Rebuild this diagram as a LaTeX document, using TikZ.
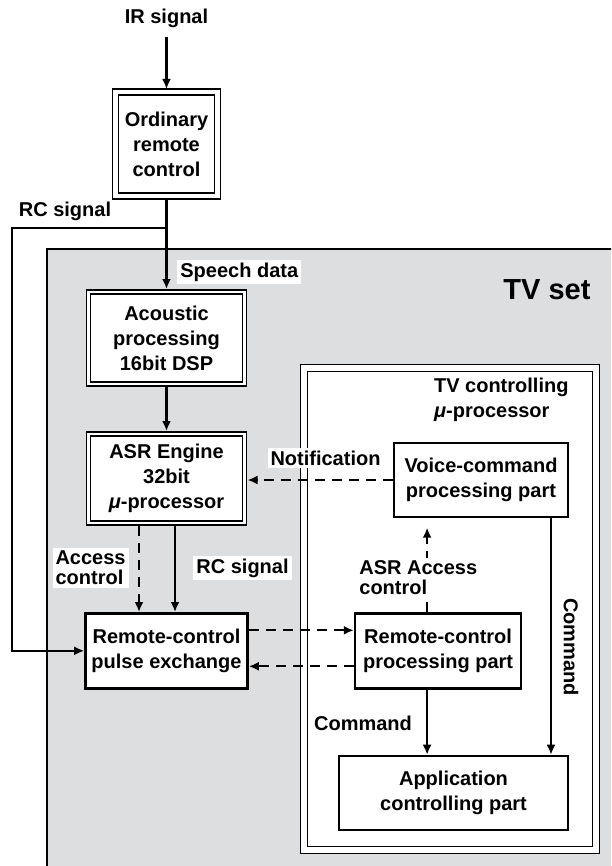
\documentclass[tikz,border=0pt]{standalone}
\usepackage{fontspec}
\setmainfont{Liberation Sans}
\usepackage{tikz}
\usetikzlibrary{arrows.meta, positioning, calc}
\definecolor{tvgray}{RGB}{221,222,224}

\begin{document}
\begin{tikzpicture}[
    x=0.5pt, y=-0.5pt,
    font={\bfseries\fontsize{10}{12.5}\selectfont},
    % Stil für die doppelt umrandeten Hardware-Boxen
    dblbox/.style={
      rectangle,
      draw=black,
      fill=white,
      double=white,
      line width=0.8pt,
      double distance=1.35pt,
      outer sep=1.5pt,
      inner sep=0pt,
      align=center
    },
    % Stil für die einfachen Boxen (Software-Teile)
    mainbox/.style={
      rectangle,
      draw=black,
      fill=white,
      line width=1.3pt,
      minimum height=37.5pt,
      inner sep=0pt,
      align=center
    },
    % Stil für die Beschriftungen an den Pfeilen
    labelbox/.style={
      fill=white,
      inner sep=1.5pt,
      align=left,
      font={\bfseries\fontsize{10}{10}\selectfont}
    },
    % Pfeile: Signal (durchgezogen) und Steuerung (gestrichelt)
    sigarrow/.style={line width=1.1pt, -{Latex[length=5pt,width=4.5pt]}},
    ctlarrow/.style={sigarrow, dash pattern=on 5pt off 3.5pt}
  ]
  \useasboundingbox (0,0) rectangle (611,866);
  \clip (0,0) rectangle (611,866);

  % --- TV-GERÄT (GRAUER HINTERGRUND) ---
  \draw[fill=tvgray, line width=1.1pt] (47,249) rectangle (640,900);
  \node[font={\bfseries\fontsize{14.5}{17}\selectfont}] (tvset) at (547,290) {TV set};

  % TV-Steuerprozessor
  \node[dblbox, double distance=2.7pt, minimum width=146pt, minimum height=241pt] (tvctl) at (450,609) {};
  \node[anchor=west, align=left] (tvctltxt) at (427,400) {TV controlling\\\textit{μ}-processor};

  % --- DEFINITION DER KNOTEN (BOXEN) ---

  % Linke Spalte: Fernbedienung und Spracherkennung
  \node (ir) at (166.5,18) {IR signal};
  \node[dblbox, double distance=2.05pt, minimum width=51pt, minimum height=52pt] (ord) at (166.5,144) {
    Ordinary\\remote\\control
  };
  \node[dblbox, minimum width=78pt, minimum height=46pt, below=45pt of ord] (acou) {
    Acoustic\\processing\\16bit DSP
  };
  \node[dblbox, minimum width=78pt, minimum height=44.5pt, below=22pt of acou] (asr) {
    ASR Engine\\32bit\\\textit{μ}-processor
  };
  \node[mainbox, minimum width=81pt, below=43pt of asr] (pulse) {
    Remote-control\\pulse exchange
  };

  % Rechte Spalte: Software-Teile im TV-Prozessor
  \node[mainbox, minimum width=87pt, minimum height=37pt] (voice) at (481,480) {
    Voice-command\\processing part
  };
  \node[mainbox, minimum width=83pt, right=52.5pt of pulse] (rcproc) {
    Remote-control\\processing part
  };
  \node[mainbox, minimum width=114.5pt, minimum height=37pt] (app) at (453.5,793) {
    Application\\controlling part
  };

  % Hilfspunkte für die Leitungen
  \coordinate (split) at (166.5,228);
  \coordinate (lft) at (12,228);
  \coordinate (aac) at ($(rcproc.north)+(-11,0)$);
  \coordinate (cmdx) at (551,0);
  \coordinate (p1) at ($(pulse.east)+(0,-20.5)$);
  \coordinate (p2) at ($(rcproc.west)+(0,15.5)$);

  % --- ZEICHNEN DER PFEILE ---
  \draw[sigarrow, shorten <=1.5pt] (ir) -- (ord);
  \draw[sigarrow] (ord) -- (acou);
  \draw[sigarrow] (split) -- (lft) |- (pulse.west);
  \draw[sigarrow] (acou) -- (asr);
  \draw[ctlarrow] ($(asr.south)+(-27.5,0)$) -- ($(pulse.north)+(-27.5,0)$);
  \draw[sigarrow] ($(asr.south)+(8.5,0)$) -- ($(pulse.north)+(8.5,0)$);

  % Pfeile zwischen ASR-Teil und TV-Prozessor
  \draw[ctlarrow] (voice.west) -- (voice.west -| asr.east);
  \draw[ctlarrow] (p1) -- (p1 -| rcproc.west);
  \draw[ctlarrow] (p2) -- (p2 -| pulse.east);
  \draw[ctlarrow, shorten >=4.7pt] (aac) -- (aac |- voice.south);
  \draw[sigarrow] (rcproc.south -| aac) -- (app.north -| aac);
  \draw[sigarrow] (voice.south -| cmdx) -- (app.north -| cmdx);

  % --- BESCHRIFTUNGEN ---
  \node (rcsig1) at (65,211) {RC signal};
  \node[labelbox, anchor=west] (speech) at (177,272) {Speech data};
  \node[labelbox] (notif) at (325.5,458) {Notification};
  \node[labelbox, anchor=east] (accctl) at (129,568) {Access\\control};
  \node[labelbox, anchor=west] (rcsig2) at (193,568) {RC signal};
  \node[labelbox, anchor=west] (asracc) at (356,578) {ASR Access\\control};
  \node[anchor=east] (cmd1) at (419,723) {Command};
  \node[rotate=-90] (cmd2) at (571,647) {Command};

\end{tikzpicture}
\end{document}
